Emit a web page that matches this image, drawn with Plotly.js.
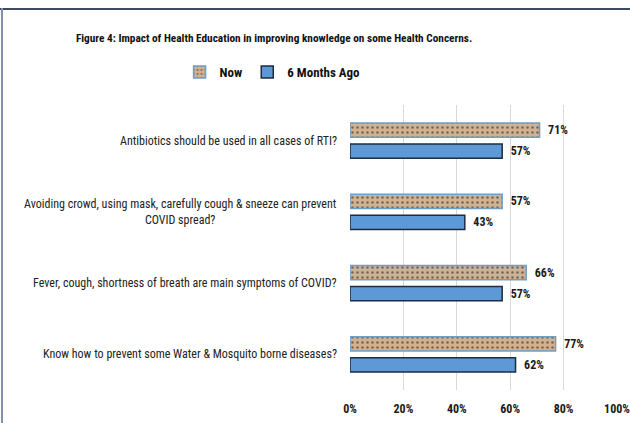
<!DOCTYPE html>
<html>
<head>
<meta charset="utf-8">
<script src="https://cdn.plot.ly/plotly-3.0.1.min.js"></script>
<style>
  html, body { margin: 0; padding: 0; background: #ffffff; }
  #frame { position: relative; width: 630px; height: 423px; overflow: hidden; }
  #chart { position: absolute; left: 0; top: 0; width: 630px; height: 423px; }
  /* slide frame edges */
  #edgeTop { position: absolute; left: 0; top: 8px; width: 630px; height: 2px; background: #3d4b63; }
  #edgeLeft { position: absolute; left: 1px; top: 8px; width: 2px; height: 415px; background: #8391a8; }
</style>
</head>
<body>
<div id="frame">
  <div id="chart"></div>
  <div id="edgeTop"></div>
  <div id="edgeLeft"></div>
</div>
<script>
// Survey questions (top to bottom)
const questions = [
  "Antibiotics should be used in all cases of RTI?",
  "Avoiding crowd, using mask, carefully cough & sneeze can prevent<br>COVID spread?",
  "Fever, cough, shortness of breath are main symptoms of COVID?",
  "Know how to prevent some Water & Mosquito borne diseases?"
];
// Percentage of correct answers
const nowValues = [71, 57, 66, 77];
const sixMonthsAgoValues = [57, 43, 57, 62];
const seriesNames = ["Now", "6 Months Ago"];
const tickValues = [0, 20, 40, 60, 80, 100];

const narrow = "'Roboto Condensed', 'Arial Narrow', 'Liberation Sans', sans-serif";

const labelFont = { family: narrow, size: 12, color: "#1a1a1a", weight: 700 };

const traces = [
  {
    type: "bar",
    orientation: "h",
    name: seriesNames[0],
    y: questions,
    x: nowValues,
    texttemplate: "\u00a0\u00a0%{x}%",
    textposition: "outside",
    textfont: labelFont,
    cliponaxis: false,
    marker: {
      color: "#cdb08f",
      line: { color: "#6f9fc9", width: 1.5 },
      pattern: { shape: ".", fgcolor: "#786652", bgcolor: "#d0b292", size: 5, solidity: 0.2 }
    },
    hoverinfo: "skip"
  },
  {
    type: "bar",
    orientation: "h",
    name: seriesNames[1],
    y: questions,
    x: sixMonthsAgoValues,
    texttemplate: "\u00a0\u00a0%{x}%",
    textposition: "outside",
    textfont: labelFont,
    cliponaxis: false,
    marker: {
      color: "#5c99d6",
      line: { color: "#1e2b40", width: 1.5 }
    },
    hoverinfo: "skip"
  }
];

// Category labels, wrapped lines centred under each other
const categoryLabels = questions.map(q => ({
  xref: "paper", yref: "y",
  x: -0.04, y: q,
  xanchor: "right", yanchor: "middle",
  align: "center",
  text: q,
  showarrow: false,
  font: { family: narrow, size: 12, color: "#222222" }
}));

const layout = {
  width: 630,
  height: 423,
  margin: { l: 350, r: 13, t: 105, b: 33 },
  paper_bgcolor: "#ffffff",
  plot_bgcolor: "#ffffff",
  barmode: "group",
  bargap: 0.41,
  bargroupgap: 0.33,
  showlegend: true,
  title: {
    text: "Figure 4: Impact of Health Education in improving knowledge on some Health Concerns.",
    font: { family: narrow, size: 11.3, color: "#111111", weight: 700 },
    xref: "container", yref: "container",
    x: 0.435, y: 0.91, xanchor: "center", yanchor: "middle"
  },
  legend: {
    orientation: "h",
    x: -0.29, y: 1.116, xanchor: "center", yanchor: "middle",
    font: { family: narrow, size: 13, color: "#111111", weight: 700 },
    itemwidth: 30,
    traceorder: "normal"
  },
  xaxis: {
    range: [0, 100],
    tickvals: tickValues,
    ticktext: tickValues.map(v => v + "%"),
    ticklabeloverflow: "allow",
    ticklabelstandoff: 10,
    showgrid: true,
    gridcolor: "#d9d9d9",
    gridwidth: 1,
    zeroline: false,
    showline: false,
    ticks: "",
    tickfont: { family: narrow, size: 12, color: "#1a1a1a", weight: 700 },
    fixedrange: true
  },
  yaxis: {
    type: "category",
    autorange: "reversed",
    showticklabels: false,
    showgrid: false,
    zeroline: false,
    showline: false,
    ticks: "",
    fixedrange: true
  },
  annotations: categoryLabels
};

Plotly.newPlot("chart", traces, layout, { displayModeBar: false, staticPlot: true });
</script>
</body>
</html>
